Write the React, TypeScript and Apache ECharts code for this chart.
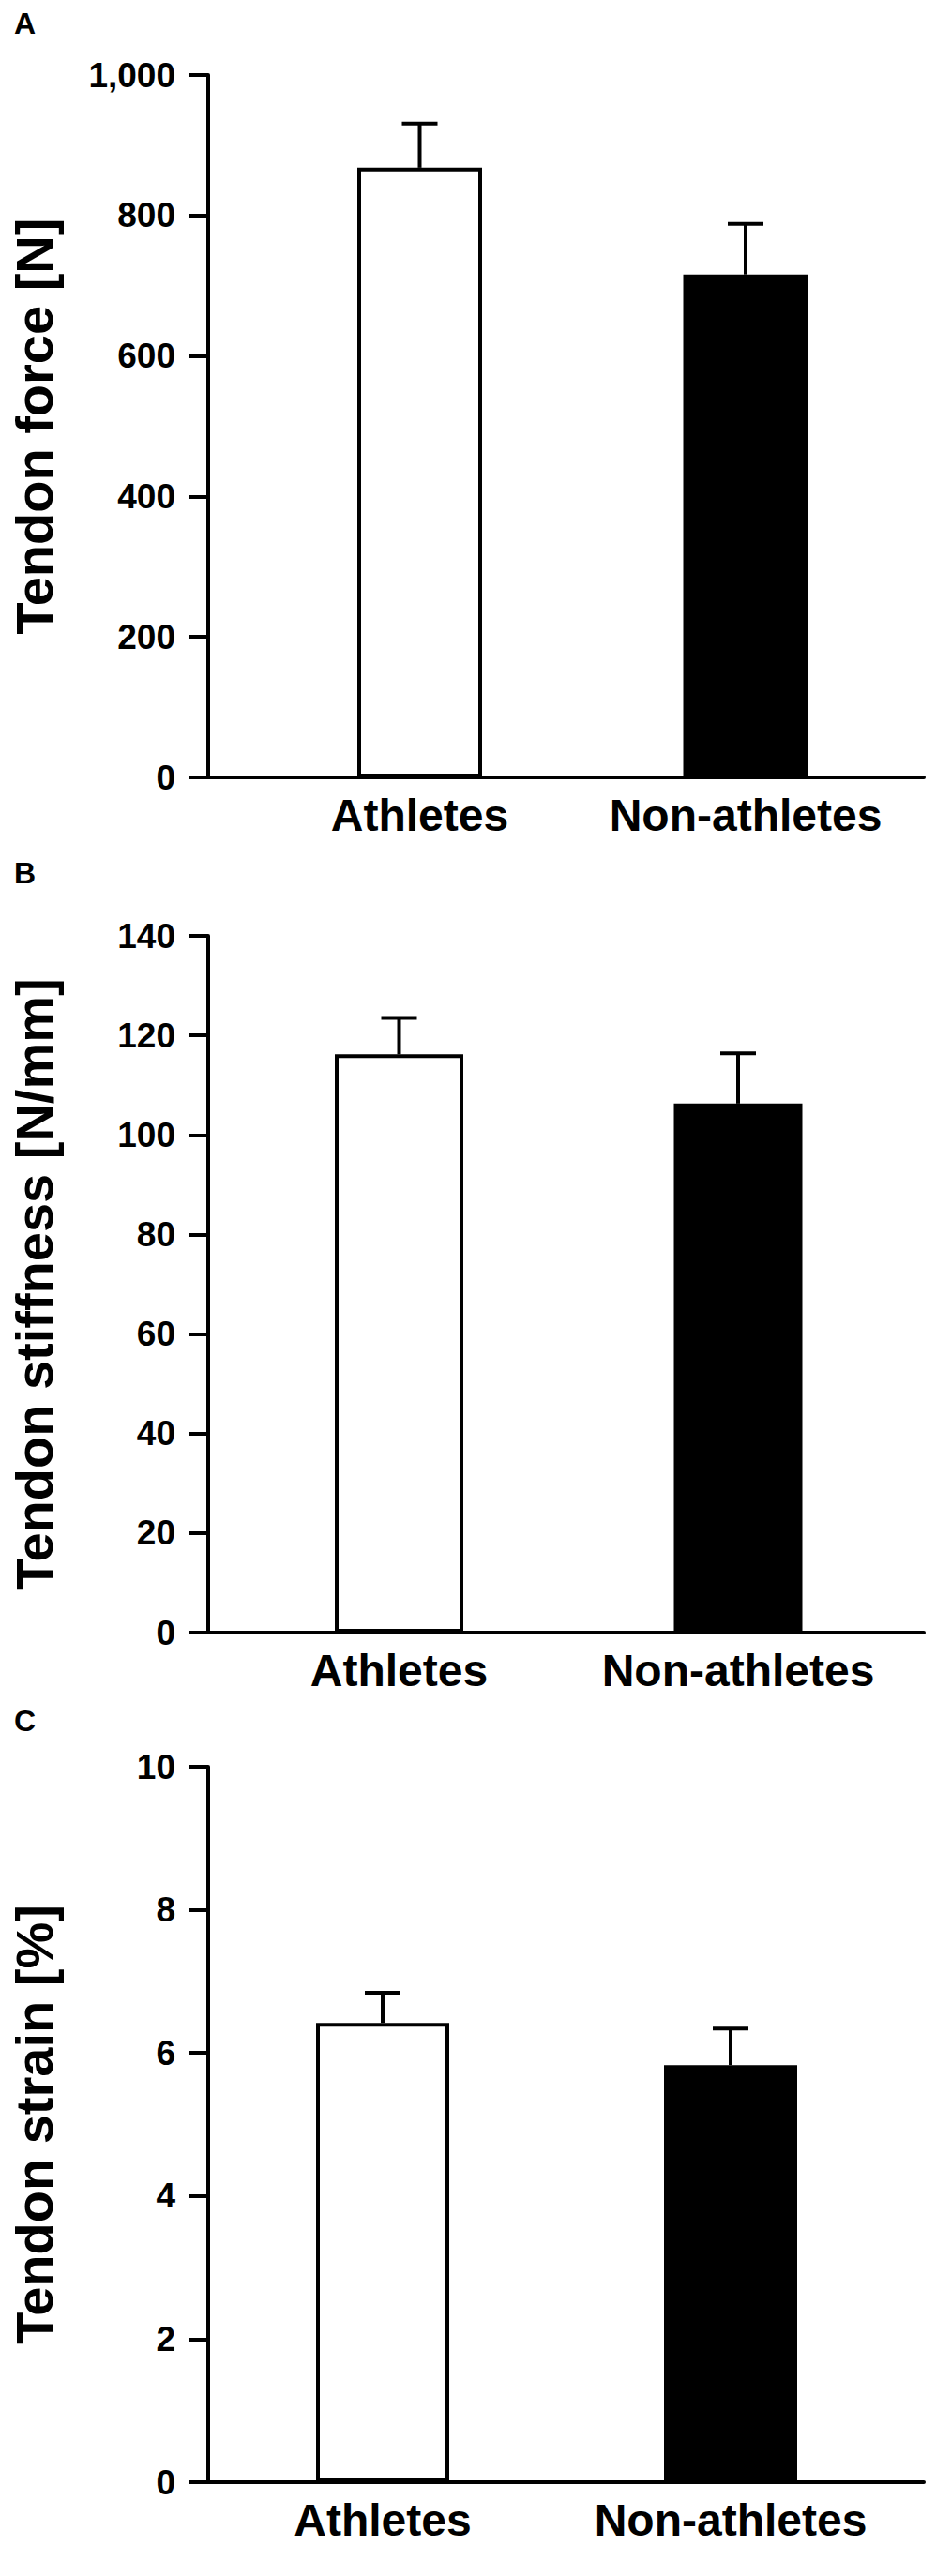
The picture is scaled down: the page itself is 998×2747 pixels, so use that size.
import React, { useEffect, useRef } from "react";
import * as echarts from "echarts";

const categories = ["Athletes", "Non-athletes"];
const barColors = ["#ffffff", "#000000"];

const forceMean = [868, 716];
const forceErr = [63, 72];
const stiffMean = [116.2, 106.3];
const stiffErr = [7.3, 10.1];
const strainMean = [6.42, 5.83];
const strainErr = [0.42, 0.51];

const panelLetters = ["A", "B", "C"];
const yTitles = ["Tendon force [N]", "Tendon stiffness [N/mm]", "Tendon strain [%]"];
const yMax = [1000, 140, 10];
const yStep = [200, 20, 2];

const FONT = "'Liberation Sans', Arial, Helvetica, sans-serif";

// layout (pixels)
const W = 998;
const H = 2747;
const axisLeft = 218;
const axisRight = 985;
const panelTop = [80, 998, 1884];
const panelZero = [829, 1741, 2647];
const barCenters = [
  [447.5, 795],
  [425.5, 787],
  [408, 779],
];
const barOuterWidth = [137, 141, 146];
const letterTop = [4, 910, 1814];

export default function App() {
  const ref = useRef<HTMLDivElement>(null);

  useEffect(() => {
    document.body.style.margin = "0";
    const chart = echarts.init(ref.current as HTMLDivElement, null, { renderer: "svg" });

    const means = [forceMean, stiffMean, strainMean];
    const errs = [forceErr, stiffErr, strainErr];

    const grids: any[] = [];
    const xAxes: any[] = [];
    const yAxes: any[] = [];
    const series: any[] = [];
    const titles: any[] = [];

    for (let p = 0; p < 3; p++) {
      const top = panelTop[p];
      const bottom = H - panelZero[p];
      grids.push({ left: axisLeft, right: W - axisRight, top, bottom, containLabel: false });
      const band = barCenters[p][1] - barCenters[p][0];
      const bl = barCenters[p][0] - band / 2;
      const br = barCenters[p][1] + band / 2;
      grids.push({ left: bl, right: W - br, top, bottom, containLabel: false });
      const gMain = p * 2;
      const gBar = p * 2 + 1;

      xAxes.push({
        type: "value",
        gridIndex: gMain,
        min: 0,
        max: 1,
        axisLine: { show: true, onZero: false, lineStyle: { color: "#000", width: 4 } },
        axisTick: { show: false },
        axisLabel: { show: false },
        splitLine: { show: false },
      });
      xAxes.push({
        type: "category",
        gridIndex: gBar,
        data: categories,
        axisLine: { show: false },
        axisTick: { show: false },
        axisLabel: {
          show: true,
          interval: 0,
          hideOverlap: false,
          color: "#000",
          fontFamily: FONT,
          fontWeight: "bold",
          fontSize: 48,
          margin: 16,
        },
      });

      yAxes.push({
        type: "value",
        gridIndex: gMain,
        min: 0,
        max: yMax[p],
        interval: yStep[p],
        name: yTitles[p],
        nameLocation: "middle",
        nameRotate: 90,
        nameGap: 158,
        nameTextStyle: {
          color: "#000",
          fontFamily: FONT,
          fontWeight: "bold",
          fontSize: 56,
        },
        axisLine: { show: true, lineStyle: { color: "#000", width: 4 } },
        axisTick: { show: true, length: 21, lineStyle: { color: "#000", width: 4 } },
        axisLabel: {
          color: "#000",
          fontFamily: FONT,
          fontWeight: "bold",
          fontSize: 37,
          margin: 35,
          formatter: (v: number) => v.toLocaleString("en-US"),
        },
        splitLine: { show: false },
      });
      yAxes.push({
        type: "value",
        gridIndex: gBar,
        min: 0,
        max: yMax[p],
        interval: yStep[p],
        show: false,
      });

      const xi = p * 2 + 1;
      const yi = p * 2 + 1;

      series.push({
        type: "bar",
        xAxisIndex: xi,
        yAxisIndex: yi,
        barWidth: barOuterWidth[p] - 4,
        data: means[p].map((v, i) => ({
          value: v,
          itemStyle: { color: barColors[i], borderColor: "#000", borderWidth: 4 },
        })),
        z: 2,
      });

      series.push({
        type: "custom",
        xAxisIndex: xi,
        yAxisIndex: yi,
        z: 3,
        encode: { x: 0, y: 1 },
        data: means[p].map((v, i) => [i, v, errs[p][i]]),
        renderItem: (params: any, api: any) => {
          const x = api.value(0);
          const m = api.value(1);
          const e = api.value(2);
          const p0 = api.coord([x, m]);
          const p1 = api.coord([x, m + e]);
          const half = 19;
          return {
            type: "group",
            children: [
              {
                type: "line",
                shape: { x1: p0[0], y1: p0[1], x2: p1[0], y2: p1[1] },
                style: { stroke: "#000", lineWidth: 4 },
              },
              {
                type: "line",
                shape: { x1: p1[0] - half, y1: p1[1], x2: p1[0] + half, y2: p1[1] },
                style: { stroke: "#000", lineWidth: 4 },
              },
            ],
          };
        },
      });

      titles.push({
        text: panelLetters[p],
        left: 10,
        top: letterTop[p],
        textStyle: { color: "#000", fontFamily: FONT, fontWeight: "bold", fontSize: 32 },
      });
    }

    chart.setOption({
      animation: false,
      backgroundColor: "#fff",
      title: titles,
      grid: grids,
      xAxis: xAxes,
      yAxis: yAxes,
      series,
    });

    return () => chart.dispose();
  }, []);

  return <div ref={ref} style={{ width: W, height: H }} />;
}
